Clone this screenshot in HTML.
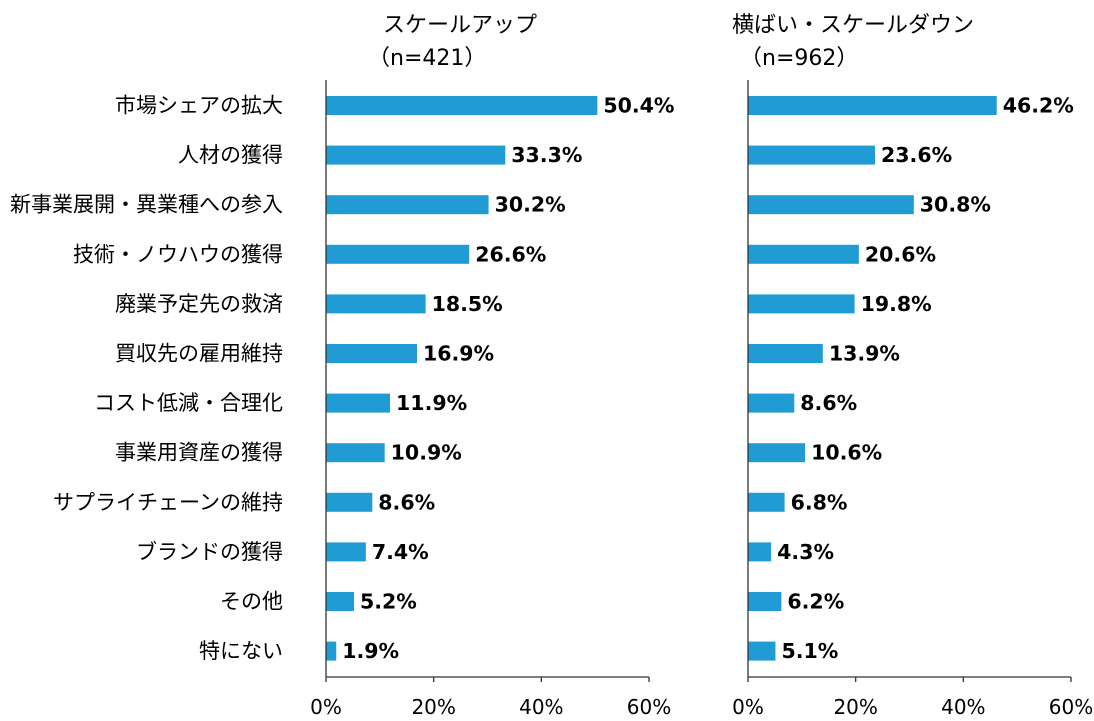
<!DOCTYPE html>
<html><head><meta charset="utf-8"><style>
body{margin:0;background:#fff}
svg text{font-family:"DejaVu Sans","Noto Sans CJK JP",sans-serif;fill:#000}
.c{font-size:21px;font-family:"Noto Sans CJK JP",sans-serif}
.v{font-size:20.5px;font-weight:bold}
.t{font-size:22px}
.tk{font-size:20px}
</style></head><body>
<svg width="1094" height="716" xmlns="http://www.w3.org/2000/svg">
<g id="all"></g>
</svg>
<script>
const cats=["市場シェアの拡大","人材の獲得","新事業展開・異業種への参入","技術・ノウハウの獲得","廃業予定先の救済","買収先の雇用維持","コスト低減・合理化","事業用資産の獲得","サプライチェーンの維持","ブランドの獲得","その他","特にない"];
const A=[50.4,33.3,30.2,26.6,18.5,16.9,11.9,10.9,8.6,7.4,5.2,1.9];
const B=[46.2,23.6,30.8,20.6,19.8,13.9,8.6,10.6,6.8,4.3,6.2,5.1];
let s="";
function panel(x0,vals){
  const w=323/60;
  vals.forEach((v,i)=>{
    const cy=105.5+i*49.6;
    const bw=v*w;
    s+=`<rect x="${x0}" y="${cy-9.5}" width="${bw}" height="19" fill="#219BD3"/>`;
    s+=`<text class="v" x="${x0+bw+6}" y="${cy+7}">${v.toFixed(1)}%</text>`;
  });
  s+=`<line x1="${x0}" y1="80" x2="${x0}" y2="677" stroke="#333" stroke-width="1.3"/>`;
  s+=`<line x1="${x0}" y1="677" x2="${x0+323}" y2="677" stroke="#333" stroke-width="1.3"/>`;
  for(let k=0;k<=3;k++){const x=x0+k*323/3;
    s+=`<line x1="${x}" y1="677" x2="${x}" y2="682" stroke="#333" stroke-width="1.3"/>`;
    s+=`<text class="tk" x="${x}" y="714" text-anchor="middle">${k*20}%</text>`;}
}
cats.forEach((c,i)=>{s+=`<text class="c" x="283" y="${105.5+i*49.6+7}" text-anchor="end">${c}</text>`;});
panel(326,A);panel(748,B);
s+=`<text class="t" x="460" y="32" text-anchor="middle">スケールアップ</text>`;
s+=`<text class="t" x="368" y="65">（n=421）</text>`;
s+=`<text class="t" x="732" y="32">横ばい・スケールダウン</text>`;
s+=`<text class="t" x="740" y="65">（n=962）</text>`;
document.getElementById("all").innerHTML=s;
</script>
</body></html>
